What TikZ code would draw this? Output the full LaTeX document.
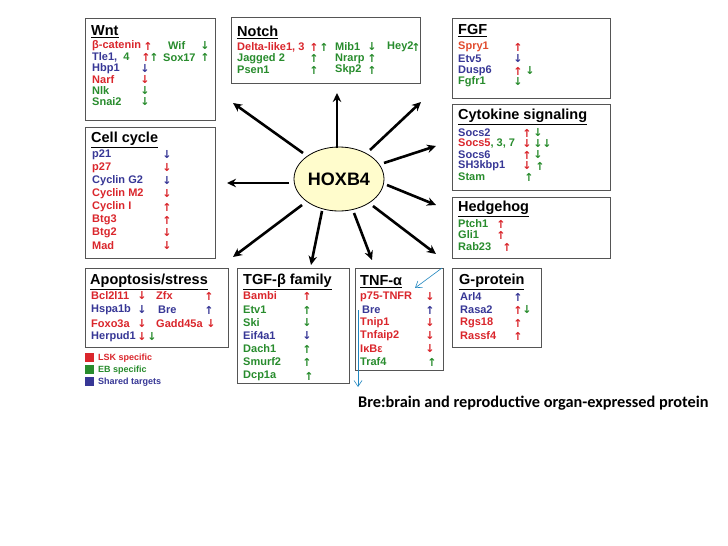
\documentclass[tikz,border=0pt]{standalone}
\usepackage{fontspec}
\setmainfont{Liberation Sans}
\newfontfamily\arrf{DejaVu Sans}
\newfontfamily\calib{Carlito}
\usetikzlibrary{arrows.meta,fit,shapes.geometric}
\definecolor{rr}{RGB}{218,38,44}
\definecolor{gg}{RGB}{40,140,45}
\definecolor{bb}{RGB}{55,55,150}
\definecolor{oo}{RGB}{225,75,45}
\definecolor{bx}{RGB}{85,85,85}
\newcommand\tx[4]{\node[anchor=west,inner sep=0,text=#3,font=\fontsize{11}{11}\selectfont\bfseries] at (#1,#2) {#4};}
\newcommand\up[3]{\node[inner sep=0,text=#3,font=\arrf\fontsize{11}{11}\selectfont\bfseries] at (#1,#2) {↑};}
\newcommand\dn[3]{\node[inner sep=0,text=#3,font=\arrf\fontsize{11}{11}\selectfont\bfseries] at (#1,#2) {↓};}
\newcommand\ttl[3]{\node[anchor=west,inner sep=0,font=\fontsize{14.5}{15}\selectfont\bfseries] at (#1,#2) {\underline{#3}};}
\newcommand\bxn[5]{\node[draw=bx,line width=0.9pt,inner sep=0,fit={(#2,#3)(#4,#5)}] (#1) {};}
\begin{document}
\begin{tikzpicture}[x=1pt,y=-1pt,
  ar/.style={line width=2.6pt,-{Stealth[length=9pt,width=8.5pt]}},
  thin/.style={draw=bb!60!cyan,line width=0.6pt,-{Straight Barb[length=6pt,width=8pt]}}]
\useasboundingbox[fill=white] (0,0) rectangle (728,546);
% boxes
\bxn{wnt}{85}{18}{215}{120}
\bxn{notch}{231}{17}{420}{83}
\bxn{fgf}{452}{18}{610}{98}
\bxn{cyto}{452}{104}{610}{190}
\bxn{hh}{452}{197}{610}{258}
\bxn{cc}{85}{127}{215}{258}
\bxn{apo}{85}{268}{228}{347}
\bxn{tgf}{237}{268}{349}{383}
\bxn{tnf}{355}{268}{443}{370}
\bxn{gp}{452}{268}{541}{347}
% center
\node[draw=black,line width=0.8pt,fill=yellow!20,ellipse,minimum width=90pt,minimum height=64pt] (hox) at (339,179) {};
\node[font=\fontsize{18}{19}\selectfont\bfseries] (hoxt) at (339,179) {HOXB4};
% arrows
\coordinate (a1) at (303,153); \coordinate (b1) at (233,103);
\coordinate (a2) at (337,148); \coordinate (b2) at (337,93);
\coordinate (a3) at (370,150); \coordinate (b3) at (421,102);
\coordinate (a4) at (384,163); \coordinate (b4) at (436,146);
\coordinate (a5) at (387,185); \coordinate (b5) at (436,205);
\coordinate (a6) at (373,206); \coordinate (b6) at (436,254);
\coordinate (a7) at (354,213); \coordinate (b7) at (372,260);
\coordinate (a8) at (322,211); \coordinate (b8) at (311,265);
\coordinate (a9) at (302,205); \coordinate (b9) at (233,257);
\coordinate (a10) at (289,183); \coordinate (b10) at (227,183);
\foreach \i in {1,...,10} \draw[ar] (a\i) -- (b\i);
\coordinate (c1) at (442,268); \coordinate (d1) at (415,288);
\coordinate (c2) at (358,310); \coordinate (d2) at (358,387);
\draw[thin] (c1) -- (d1);
\draw[thin] (c2) -- (d2);
% Wnt
\ttl{91}{32}{Wnt}
\tx{92}{46}{rr}{β-catenin}\up{148}{46}{rr}\tx{168}{46}{gg}{Wif}\dn{205}{46}{gg}
\tx{92}{57.5}{bb}{Tle1,~~\textcolor{gg}{4}}\up{146}{57.5}{rr}\up{154}{57.5}{gg}\tx{163}{57.5}{gg}{Sox17}\up{205}{57.5}{gg}
\tx{92}{68.5}{bb}{Hbp1}\dn{145}{68.5}{bb}
\tx{92}{79.5}{rr}{Narf}\dn{145}{79.5}{rr}
\tx{92}{90.5}{gg}{Nlk}\dn{145}{90.5}{gg}
\tx{92}{102}{gg}{Snai2}\dn{145}{102}{gg}
% Notch
\ttl{237}{32}{Notch}
\tx{237}{47}{rr}{Delta-like1, 3}\up{314}{47}{rr}\up{324}{47}{gg}\tx{335}{47}{gg}{Mib1}\dn{372}{47}{gg}\tx{387}{47}{gg}{Hey2}\up{416}{47}{gg}
\tx{237}{58.5}{gg}{Jagged 2}\up{314}{58.5}{gg}\tx{335}{58.5}{gg}{Nrarp}\up{372}{58.5}{gg}
\tx{237}{70}{gg}{Psen1}\up{314}{70}{gg}\tx{335}{70}{gg}{Skp2}\up{372}{70}{gg}
% FGF
\ttl{458}{31}{FGF}
\tx{458}{47}{oo}{Spry1}\up{518}{47}{rr}
\tx{458}{59}{bb}{Etv5}\dn{518}{59}{bb}
\tx{458}{71}{bb}{Dusp6}\up{518}{71}{rr}\dn{530}{71}{gg}
\tx{458}{82}{gg}{Fgfr1}\dn{518}{82}{gg}
% Cytokine
\ttl{458}{117}{Cytokine signaling}
\tx{458}{133}{bb}{Socs2}\up{527}{133}{rr}\dn{538}{133}{gg}
\tx{458}{144}{rr}{Socs5\textcolor{gg}{, 3, 7}}\dn{527}{144}{rr}\dn{538}{144}{gg}\dn{547}{144}{gg}
\tx{458}{155}{bb}{Socs6}\up{527}{155}{rr}\dn{538}{155}{gg}
\tx{458}{166}{bb}{SH3kbp1}\dn{527}{166}{rr}\up{540}{166}{gg}
\tx{458}{177}{gg}{Stam}\up{529}{177}{gg}
% Hedgehog
\ttl{458}{209}{Hedgehog}
\tx{458}{224}{gg}{Ptch1}\up{501}{224}{rr}
\tx{458}{235}{gg}{Gli1}\up{501}{235}{rr}
\tx{458}{247}{gg}{Rab23}\up{507}{247}{rr}
% Cell cycle
\ttl{91}{140}{Cell cycle}
\tx{92}{155}{bb}{p21}\dn{167}{155}{bb}
\tx{92}{168}{rr}{p27}\dn{167}{168}{rr}
\tx{92}{181}{bb}{Cyclin G2}\dn{167}{181}{bb}
\tx{92}{194}{rr}{Cyclin M2}\dn{167}{194}{rr}
\tx{92}{207}{rr}{Cyclin I}\up{167}{207}{rr}
\tx{92}{220}{rr}{Btg3}\up{167}{220}{rr}
\tx{92}{233}{rr}{Btg2}\dn{167}{233}{rr}
\tx{92}{246}{rr}{Mad}\dn{167}{246}{rr}
% Apoptosis
\ttl{90}{282}{Apoptosis/stress}
\tx{91}{296}{rr}{Bcl2l11}\dn{142}{296}{rr}\tx{156}{296}{rr}{Zfx}\up{209}{296}{rr}
\tx{91}{310}{bb}{Hspa1b}\dn{142}{310}{bb}\tx{158}{310}{bb}{Bre}\up{209}{310}{bb}
\tx{91}{324}{rr}{Foxo3a}\dn{142}{324}{rr}\tx{156}{324}{rr}{Gadd45a}\dn{211}{324}{rr}
\tx{91}{337}{bb}{Herpud1}\dn{142}{337}{rr}\dn{152}{337}{gg}
% TGF
\ttl{243}{282}{TGF-β family}
\tx{243}{296}{rr}{Bambi}\up{307}{296}{rr}
\tx{243}{310}{gg}{Etv1}\up{307}{310}{gg}
\tx{243}{323}{gg}{Ski}\dn{307}{323}{gg}
\tx{243}{336}{bb}{Eif4a1}\dn{307}{336}{bb}
\tx{243}{349}{gg}{Dach1}\up{307}{349}{gg}
\tx{243}{362}{gg}{Smurf2}\up{307}{362}{gg}
\tx{243}{376}{gg}{Dcp1a}\up{309}{376}{gg}
% TNF
\ttl{360}{282}{TNF-α}
\tx{360}{297}{rr}{p75-TNFR}\dn{430}{297}{rr}
\tx{362}{310}{bb}{Bre}\up{430}{310}{bb}
\tx{360}{323}{rr}{Tnip1}\dn{430}{323}{rr}
\tx{360}{336}{rr}{Tnfaip2}\dn{430}{336}{rr}
\tx{360}{349}{rr}{IκBε}\dn{430}{349}{rr}
\tx{360}{362}{gg}{Traf4}\up{432}{362}{gg}
% G-protein
\ttl{459}{282}{G-protein}
\tx{460}{297}{bb}{Arl4}\up{518}{297}{bb}
\tx{460}{310}{bb}{Rasa2}\up{518}{310}{rr}\dn{527}{310}{gg}
\tx{460}{323}{rr}{Rgs18}\up{518}{323}{rr}
\tx{460}{336}{rr}{Rassf4}\up{518}{336}{rr}
% legend
\fill[rr] (85,353) rectangle (94,362);
\fill[gg] (85,365) rectangle (94,374);
\fill[bb] (85,377) rectangle (94,386);
\node[anchor=west,inner sep=0,text=rr,font=\fontsize{9}{9}\selectfont\bfseries] (l1) at (98,358) {LSK specific};
\node[anchor=west,inner sep=0,text=gg,font=\fontsize{9}{9}\selectfont\bfseries] (l2) at (98,370) {EB specific};
\node[anchor=west,inner sep=0,text=bb,font=\fontsize{9}{9}\selectfont\bfseries] (l3) at (98,382) {Shared targets};
\node[anchor=west,inner sep=0,font=\calib\fontsize{16.3}{17}\selectfont\bfseries] (foot) at (358,403) {Bre:brain and reproductive organ-expressed protein};
\end{tikzpicture}
\end{document}
